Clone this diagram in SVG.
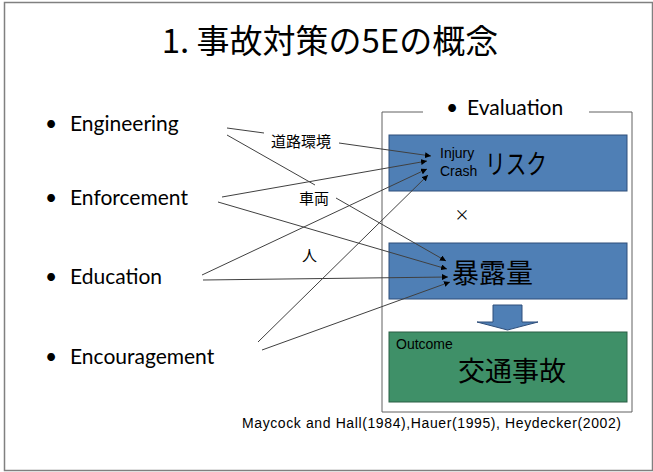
<svg xmlns="http://www.w3.org/2000/svg" width="653" height="472" viewBox="0 0 653 472">
<defs>
<style>
.frame{fill:#fff;stroke:#808080;stroke-width:1.5}
.title{font-family:"Noto Sans CJK JP","Liberation Sans",sans-serif;font-size:33px;fill:#000}
.item{font-family:Lato,"Open Sans",sans-serif;font-size:21px;fill:#000}
.small{font-family:"Liberation Sans",Arial,sans-serif;font-size:14px;fill:#000}
.lbl{font-family:"Noto Sans CJK JP",sans-serif;font-size:15px;fill:#000}
.big{font-family:"Noto Sans CJK JP",sans-serif;font-size:27px;fill:#000}
.blue{fill:#4F7FB5;stroke:#2F4F7A;stroke-width:1}
.green{fill:#3F9068;stroke:#2A5E45;stroke-width:1}
.conn line{stroke:#404040;stroke-width:1}
.arr{marker-end:url(#ah)}
</style>
<marker id="ah" viewBox="0 0 10 10" refX="10" refY="5" markerWidth="6" markerHeight="6" markerUnits="userSpaceOnUse" orient="auto">
<path d="M0,0 L10,5 L0,10 z" fill="#000"/>
</marker>
</defs>
<rect class="frame" x="4.5" y="2.5" width="648" height="468"/>
<g id="title"><text class="title" x="330" y="53" text-anchor="middle">1. 事故対策の5Eの概念</text></g>

<g id="engineering"><text class="item" x="45" y="131">•</text><text class="item" x="70" y="131">Engineering</text></g>
<g id="enforcement"><text class="item" x="45" y="205">•</text><text class="item" x="70" y="205">Enforcement</text></g>
<g id="education"><text class="item" x="45" y="284">•</text><text class="item" x="70" y="284">Education</text></g>
<g id="encouragement"><text class="item" x="45" y="364">•</text><text class="item" x="70" y="364">Encouragement</text></g>

<g id="evaluation">
<path d="M423,112 H382 V412 H632 V112 H589" fill="none" stroke="#606060" stroke-width="1"/>
<text class="item" x="446" y="115">•</text><text class="item" x="467" y="115">Evaluation</text>
</g>

<g id="risk">
<rect class="blue" x="389" y="135" width="238" height="56"/>
<text class="small" x="440" y="158">Injury</text>
<text class="small" x="440" y="176">Crash</text>
<text class="big" x="485" y="174" font-size="25" textLength="62" lengthAdjust="spacingAndGlyphs">リスク</text>
</g>
<g id="times"><text class="lbl" x="462" y="220" text-anchor="middle" font-size="20">×</text></g>
<g id="exposure">
<rect class="blue" x="389" y="243" width="238" height="56"/>
<text class="big" x="452" y="283">暴露量</text>
</g>
<g id="downarrow">
<path class="blue" d="M493,305 H522 V322 H538 L507.5,330 L477,322 H493 Z"/>
</g>
<g id="outcome">
<rect class="green" x="389" y="332" width="238" height="70"/>
<text class="small" x="396" y="349" font-size="15">Outcome</text>
<text class="big" x="458" y="381">交通事故</text>
</g>
<g id="citation"><text class="small" x="242" y="428" font-size="15" textLength="379" lengthAdjust="spacing">Maycock and Hall(1984),Hauer(1995), Heydecker(2002)</text></g>

<g id="labels">
<text class="lbl" x="271" y="147">道路環境</text>
<text class="lbl" x="299" y="204">車両</text>
<text class="lbl" x="302" y="261">人</text>
</g>

<g class="conn" id="connectors">
<line x1="227" y1="128" x2="264" y2="133"/>
<line class="arr" x1="339" y1="143" x2="431" y2="156"/>
<line x1="227" y1="135" x2="315" y2="185"/>
<line class="arr" x1="336" y1="198" x2="446" y2="261"/>
<line class="arr" x1="222" y1="197" x2="427" y2="161"/>
<line class="arr" x1="218" y1="202" x2="447" y2="269"/>
<line class="arr" x1="202" y1="275" x2="427" y2="169"/>
<line class="arr" x1="203" y1="280" x2="448" y2="277"/>
<line class="arr" x1="258" y1="342" x2="428" y2="175"/>
<line class="arr" x1="262" y1="350" x2="450" y2="282"/>
</g>
</svg>
